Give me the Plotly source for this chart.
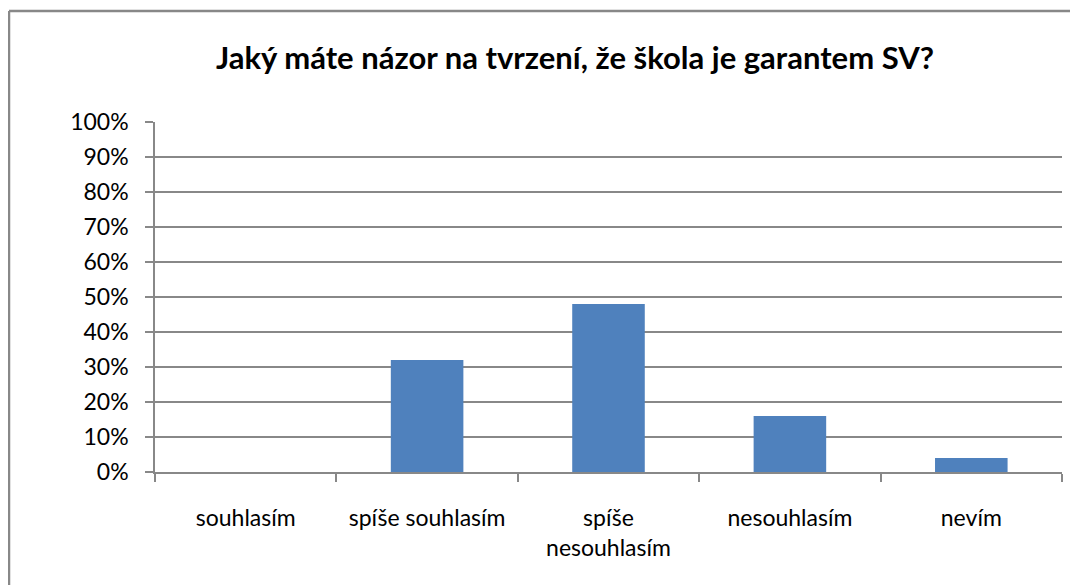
import plotly.graph_objects as go

categories = ["souhlasím", "spíše souhlasím", "spíše<br>nesouhlasím", "nesouhlasím", "nevím"]
values = [0.0, 0.32, 0.48, 0.16, 0.04]
tick_vals = [i / 10 for i in range(11)]
tick_text = [f"{i*10}%" for i in range(11)]
title_text = "Jaký máte názor na tvrzení, že škola je garantem SV?"

FONT = "Lato"
GRID = "#888888"

L, R, T, B = 147, 24, 114, 121
PW, PH = 1078 - L - R, 585 - T - B

fig = go.Figure(
    go.Bar(x=categories, y=values, marker=dict(color="#4F81BD", line=dict(width=0)), width=0.4)
)

fig.update_layout(
    width=1078, height=585,
    paper_bgcolor="white", plot_bgcolor="white",
    margin=dict(l=L, r=R, t=T, b=B),
    title=dict(text=f"<b>{title_text}</b>", x=0.526, xanchor="center", y=0.914, yanchor="middle",
               font=dict(family=FONT, size=31, color="black")),
    font=dict(family=FONT, size=23, color="black"),
    showlegend=False,
    bargap=0.6,
)
fig.update_yaxes(
    range=[0, 1], tickvals=tick_vals, ticktext=tick_text,
    showgrid=True, gridcolor=GRID, gridwidth=1.5,
    showline=True, linecolor=GRID, linewidth=1.5,
    ticks="outside", ticklen=8, tickcolor=GRID, tickwidth=1.5,
    zeroline=False, ticklabelstandoff=12,
)
fig.update_xaxes(
    showline=True, linecolor=GRID, linewidth=1.5,
    ticks="outside", ticklen=8, tickcolor=GRID, tickwidth=1.5,
    tickson="boundaries", ticklabelstandoff=25,
)
# chart frame (top and left edges visible)
fx = (1 - L) / PW
fy = (585 - B - 3) / PH
fig.add_shape(type="line", xref="paper", yref="paper", x0=fx, x1=1.2, y0=fy, y1=fy,
              line=dict(color=GRID, width=2.5))
fig.add_shape(type="line", xref="paper", yref="paper", x0=fx, x1=fx, y0=fy, y1=-0.5,
              line=dict(color=GRID, width=2.5))

fig.write_html("out.html")
